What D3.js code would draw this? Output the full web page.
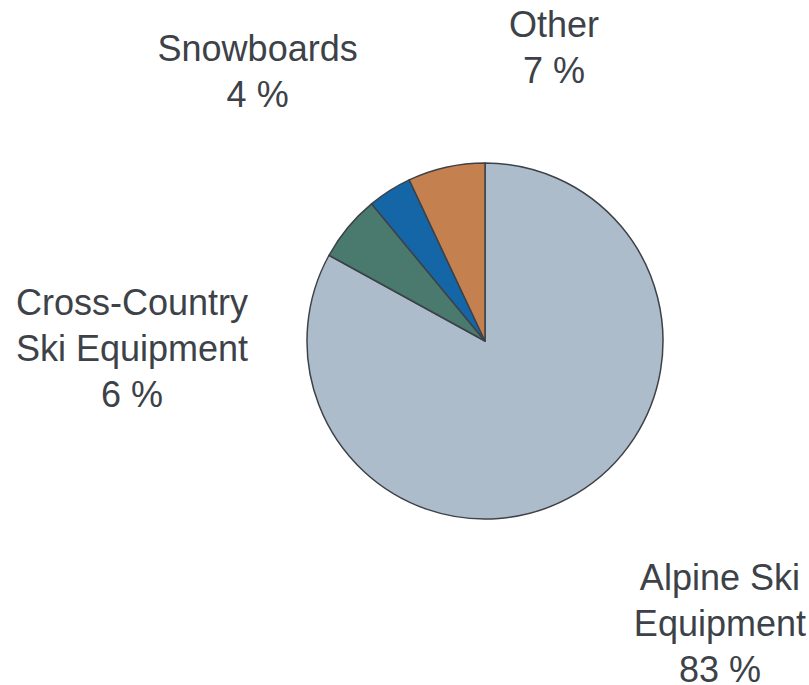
<!DOCTYPE html>
<html>
<head>
<meta charset="utf-8">
<script src="https://cdn.jsdelivr.net/npm/d3@7"></script>
<style>
body { margin: 0; background: #fff; }
text { font-family: "Liberation Sans", Arial, sans-serif; font-size: 36px; fill: #3d4248; }
</style>
</head>
<body>
<svg width="809" height="685"></svg>
<script>
// data
const categories = ["Alpine Ski\nEquipment", "Cross-Country\nSki Equipment", "Snowboards", "Other"];
const shares = [83, 6, 4, 7];
const colors = ["#adbccb", "#4a796d", "#1466a7", "#c5804f"];

// label placement (polar, degrees clockwise from 12 o'clock)
const labelAngle = [140.2, 268.9, 319.9, 13.2];
const labelRadius = [367, 353, 353, 302];

const svg = d3.select("svg");
const cx = 485, cy = 341, radius = 178;
const g = svg.append("g").attr("transform", "translate(" + cx + "," + cy + ")");

const pie = d3.pie().sort(null).value(d => d);
const arcs = pie(shares);
const arc = d3.arc().innerRadius(0).outerRadius(radius);

g.selectAll("path")
	.data(arcs)
	.enter()
	.append("path")
	.attr("d", arc)
	.style("fill", (d, i) => colors[i])
	.style("stroke", "#3d4248")
	.style("stroke-width", 1.5)
	.style("stroke-linejoin", "round");

const lineH = 46;
const labels = g.selectAll("text")
	.data(arcs)
	.enter()
	.append("text")
	.attr("text-anchor", "middle")
	.attr("transform", (d, i) => {
		const p = d3.pointRadial(labelAngle[i] * Math.PI / 180, labelRadius[i]);
		return "translate(" + p[0] + "," + p[1] + ")";
	});

labels.each(function(d, i) {
	const lines = categories[i].split("\n").concat([shares[i] + " %"]);
	const t = d3.select(this);
	const y0 = -(lines.length - 1) * lineH / 2 + 13;
	lines.forEach((l, k) => {
		t.append("tspan").attr("x", 0).attr("y", y0 + k * lineH).text(l);
	});
});
</script>
</body>
</html>
